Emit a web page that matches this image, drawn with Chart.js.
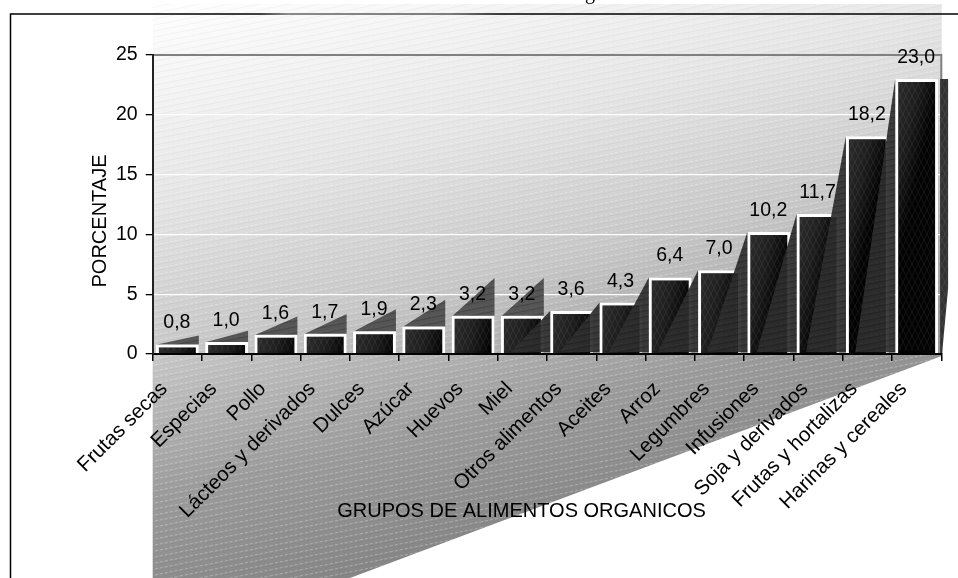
<!DOCTYPE html>
<html>
<head>
<meta charset="utf-8">
<title>Grupos de alimentos organicos</title>
<script src="https://cdn.jsdelivr.net/npm/chart.js@4/dist/chart.umd.min.js"></script>
<style>
  html, body { margin: 0; padding: 0; background: #fff; }
  canvas { display: block; }
</style>
</head>
<body>
<canvas id="alimentosChart" width="958" height="578"></canvas>
<script>
const categorias = ["Frutas secas", "Especias", "Pollo", "Lácteos y derivados", "Dulces", "Azúcar", "Huevos", "Miel",
  "Otros alimentos", "Aceites", "Arroz", "Legumbres", "Infusiones", "Soja y derivados", "Frutas y hortalizas", "Harinas y cereales"];
const porcentajes = [0.8, 1.0, 1.6, 1.7, 1.9, 2.3, 3.2, 3.2, 3.6, 4.3, 6.4, 7.0, 10.2, 11.7, 18.2, 23.0];
const tituloX = "GRUPOS DE ALIMENTOS ORGANICOS";
const tituloY = "PORCENTAJE";

// first bar whose shadow falls to the left instead of above
const primeraCuna = 8;
const fuente = '"Liberation Sans", Arial, sans-serif';

// diagonal hatch tile used for the wall and the shadows
function hatchTile(light, dark) {
  const tile = document.createElement('canvas');
  tile.width = 30;
  tile.height = 6;
  const t = tile.getContext('2d');
  for (let k = -6; k <= 12; k += 6) {
    t.strokeStyle = light;
    t.lineWidth = 1;
    t.setLineDash([3, 2]);
    t.beginPath();
    t.moveTo(0, k + 6);
    t.lineTo(30, k);
    t.stroke();
    t.strokeStyle = dark;
    t.setLineDash([]);
    t.beginPath();
    t.moveTo(0, k + 8);
    t.lineTo(30, k + 2);
    t.stroke();
  }
  return tile;
}

// woven texture on the dark bars
function weaveTile() {
  const tile = document.createElement('canvas');
  tile.width = 6;
  tile.height = 12;
  const t = tile.getContext('2d');
  t.strokeStyle = 'rgba(255,255,255,0.07)';
  t.lineWidth = 1;
  t.beginPath();
  t.moveTo(0, 0); t.lineTo(6, 12);
  t.moveTo(6, 0); t.lineTo(0, 12);
  t.stroke();
  return tile;
}

const pared = {
  id: 'pared',
  beforeDraw(chart) {
    const { ctx, chartArea: a, width, height } = chart;
    ctx.save();
    ctx.fillStyle = '#fff';
    ctx.fillRect(0, 0, width, height);

    // wall behind the plot, cut by a diagonal underneath
    const g = ctx.createLinearGradient(a.left, 4, a.left + 138, 589);
    g.addColorStop(0, '#ffffff');
    g.addColorStop(0.32, '#e6e6e6');
    g.addColorStop(0.57, '#c8c8c8');
    g.addColorStop(0.8, '#9c9c9c');
    g.addColorStop(1, '#868686');
    ctx.beginPath();
    ctx.moveTo(a.left, 4);
    ctx.lineTo(a.right + 0.5, 4);
    ctx.lineTo(a.right + 0.5, a.bottom + 2);
    ctx.lineTo(350, height);
    ctx.lineTo(a.left, height);
    ctx.closePath();
    ctx.fillStyle = g;
    ctx.fill();
    ctx.fillStyle = ctx.createPattern(hatchTile('rgba(255,255,255,0.3)', 'rgba(0,0,0,0.035)'), 'repeat');
    ctx.fill();

    // outer frame, only top and left reach inside the page
    const borde = ctx.createLinearGradient(0, 0, width, 0);
    borde.addColorStop(0, '#000');
    borde.addColorStop(0.27, '#000');
    borde.addColorStop(0.3, '#666');
    borde.addColorStop(0.47, '#555');
    borde.addColorStop(0.52, '#000');
    borde.addColorStop(1, '#000');
    ctx.strokeStyle = borde;
    ctx.lineWidth = 1.5;
    ctx.beginPath();
    ctx.moveTo(10.5, height);
    ctx.lineTo(10.5, 14);
    ctx.lineTo(width, 14);
    ctx.stroke();

    // descender of the heading above the frame
    ctx.fillStyle = '#000';
    ctx.font = '20px "Liberation Serif", serif';
    ctx.textAlign = 'center';
    ctx.textBaseline = 'alphabetic';
    ctx.fillText('g', 590, -1.5);
    ctx.restore();
  },
  beforeDatasetsDraw(chart) {
    const { ctx, chartArea: a } = chart;
    const barras = chart.getDatasetMeta(0).data;
    const rayado = ctx.createPattern(hatchTile('rgba(255,255,255,0.05)', 'rgba(0,0,0,0.18)'), 'repeat');
    ctx.save();

    // grey top and right edges of the plot
    ctx.strokeStyle = '#808080';
    ctx.lineWidth = 2;
    ctx.beginPath();
    ctx.moveTo(a.left, a.top);
    ctx.lineTo(a.right, a.top);
    ctx.lineTo(a.right, a.bottom);
    ctx.stroke();

    // triangular shadows above the short bars
    barras.slice(0, primeraCuna).forEach(b => {
      const x0 = b.x - b.width / 2;
      const x1 = b.x + b.width / 2;
      const h = b.base - b.y;
      ctx.beginPath();
      ctx.moveTo(x0 + 1, b.y);
      ctx.lineTo(x1, b.y - h);
      ctx.lineTo(x1, b.y);
      ctx.closePath();
      ctx.fillStyle = '#555555';
      ctx.fill();
      ctx.fillStyle = rayado;
      ctx.fill();
    });
    ctx.restore();
  },
  afterDatasetsDraw(chart) {
    const { ctx } = chart;
    const barras = chart.getDatasetMeta(0).data;
    const rayado = ctx.createPattern(hatchTile('rgba(255,255,255,0.04)', 'rgba(0,0,0,0.2)'), 'repeat');
    const tejido = ctx.createPattern(weaveTile(), 'repeat');
    ctx.save();

    barras.forEach(b => {
      ctx.fillStyle = tejido;
      ctx.fillRect(b.x - b.width / 2 + 3, b.y + 3, b.width - 6, b.base - b.y - 6);
    });

    // wedges that lean from the taller bars over their left neighbour
    barras.slice(primeraCuna).forEach(b => {
      const x0 = b.x - b.width / 2;
      ctx.beginPath();
      ctx.moveTo(x0 - 40, b.base - 1);
      ctx.lineTo(x0, b.y);
      ctx.lineTo(x0, b.base - 1);
      ctx.closePath();
      ctx.fillStyle = 'rgba(46,46,46,0.93)';
      ctx.fill();
      ctx.fillStyle = rayado;
      ctx.fill();
    });

    // narrow shadow strip on the right of the last bar
    const u = barras[barras.length - 1];
    const xd = u.x + u.width / 2;
    ctx.beginPath();
    ctx.moveTo(xd + 2, u.y);
    ctx.lineTo(xd + 10, u.y);
    ctx.lineTo(xd + 10, u.base - 65);
    ctx.lineTo(xd + 4, u.base);
    ctx.lineTo(xd + 2, u.base);
    ctx.closePath();
    ctx.fillStyle = '#333333';
    ctx.fill();
    ctx.fillStyle = ctx.createPattern(weaveTile(), 'repeat');
    ctx.fill();
    ctx.restore();
  },
  afterDraw(chart) {
    const { ctx, chartArea: a } = chart;
    const barras = chart.getDatasetMeta(0).data;
    ctx.save();
    ctx.fillStyle = '#000';
    ctx.font = '19.5px ' + fuente;
    ctx.textAlign = 'center';
    ctx.textBaseline = 'alphabetic';
    barras.forEach((b, i) => {
      ctx.fillText(porcentajes[i].toFixed(1).replace('.', ','), b.x - 0.5, b.y - 16);
    });
    ctx.font = '20px ' + fuente;
    ctx.fillText(tituloX, 521.5, a.bottom + 162.5);
    ctx.translate(105.5, 221);
    ctx.rotate(-Math.PI / 2);
    ctx.fillText(tituloY, 0, 0);
    ctx.restore();
  }
};

new Chart(document.getElementById('alimentosChart'), {
  type: 'bar',
  data: {
    labels: categorias,
    datasets: [{
      label: 'Porcentaje',
      data: porcentajes,
      barPercentage: 0.87,
      categoryPercentage: 1,
      borderColor: '#ffffff',
      borderWidth: 3,
      backgroundColor: function (c) {
        const area = c.chart.chartArea;
        if (!area) return '#222';
        const xs = c.chart.scales.x;
        const ys = c.chart.scales.y;
        const mitad = xs.width / categorias.length * 0.87 / 2;
        const cx = xs.getPixelForTick(c.dataIndex);
        const top = ys.getPixelForValue(porcentajes[c.dataIndex]);
        const g = c.chart.ctx.createLinearGradient(cx - mitad, top, cx + mitad, top + 10);
        g.addColorStop(0, '#2e2e2e');
        g.addColorStop(0.55, '#1e1e1e');
        g.addColorStop(1, '#030303');
        return g;
      }
    }]
  },
  plugins: [pared],
  options: {
    responsive: false,
    animation: false,
    layout: { padding: { top: 55, right: 16.7, left: 0, bottom: 0 } },
    plugins: { legend: { display: false }, tooltip: { enabled: false }, title: { display: false } },
    scales: {
      x: {
        afterFit: function (scale) { scale.height = 224; },
        grid: { drawOnChartArea: false, offset: true, color: '#000', tickLength: 7, lineWidth: 1.5 },
        border: { color: '#000', width: 2, z: 1 },
        ticks: {
          color: '#000',
          autoSkip: false,
          minRotation: 45,
          maxRotation: 45,
          padding: 16,
          labelOffset: -13,
          font: { family: fuente, size: 20.5 }
        }
      },
      y: {
        min: 0,
        max: 25,
        afterFit: function (scale) { scale.width = 152.7; },
        grid: { color: '#ffffff', lineWidth: 1.3, tickColor: '#000', tickLength: 7, drawTicks: true },
        border: { color: '#222', width: 2, z: 1 },
        ticks: {
          stepSize: 5,
          color: '#000',
          padding: 8,
          font: { family: fuente, size: 19.5 }
        }
      }
    }
  }
});
</script>
</body>
</html>
